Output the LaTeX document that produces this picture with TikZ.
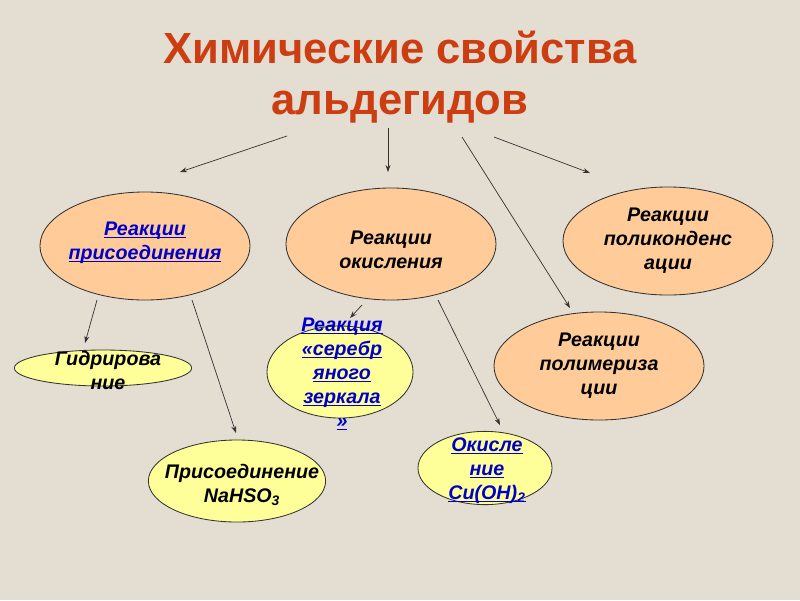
\documentclass[tikz,border=0pt]{standalone}
\usepackage{fontspec}
\setmainfont{Liberation Sans}
\usetikzlibrary{shapes.geometric, arrows.meta, positioning}
\definecolor{bgpaper}{HTML}{E3DDD2}
\definecolor{titlered}{HTML}{CC3D12}
\definecolor{peach}{HTML}{FFCC99}
\definecolor{lemon}{HTML}{FFFF99}
\definecolor{linkblue}{HTML}{0000CC}
\definecolor{darkgray}{HTML}{333333}
\newcommand{\lnk}[1]{\underline{\smash{#1}}}
\tikzset{
  reaction/.style={
    ellipse, draw=darkgray, line width=0.6pt,
    fill=peach, minimum width=5.25cm, minimum height=2.7cm, inner sep=0pt,
  },
  product/.style={
    ellipse, draw=darkgray, line width=0.6pt,
    fill=lemon, inner sep=0pt,
  },
  caption/.style={align=center, inner sep=0pt,
    font=\fontsize{14}{17}\selectfont\bfseries\itshape},
  link/.style={caption, text=linkblue},
  arrow/.style={-{Stealth[length=5pt,width=3.5pt]}, line width=0.5pt, color=darkgray},
}

\begin{document}
\begin{tikzpicture}[x=0.025cm,y=-0.025cm]
  \fill[bgpaper] (0,0) rectangle (800,600);
  \useasboundingbox (0,0) rectangle (800,600);
  \node[font=\fontsize{31}{36}\selectfont\bfseries,text=titlered,align=center] (title) at (400,77) {Химические свойства\\альдегидов};
  % main groups of reactions
  \node[reaction] (add) at (145,246) {};
  \node[reaction,minimum height=2.8cm] (oxid) at (391,244) {};
  \node[reaction] (polycond) at (668,241) {};
  \node[reaction] (polymer) at (599,366) {};
  \node[link] (add-t) at (145,249) {\lnk{Реакции}\\\lnk{присоединения}};
  \node[caption] (oxid-t) at ([yshift=-4]oxid.center) {Реакции\\окисления};
  \node[caption] (polycond-t) at (polycond) {Реакции\\поликонденс\\ации};
  \node[caption] (polymer-t) at (polymer) {Реакции\\полимериза\\ции};
  % particular reactions
  \node[product,minimum width=4.43cm,minimum height=0.9cm] (hydro) at (103,368) {};
  \node[product,minimum width=3.65cm,minimum height=2.3cm] (mirror) at (340,372) {};
  \node[product,minimum width=4.43cm,minimum height=2.05cm] (bisulf) at (237,481) {};
  \node[product,minimum width=3.35cm,minimum height=1.83cm] (cuoh) at (485,468) {};
  \node[caption] (hydro-t) at (108,370) {Гидрирова\\ние};
  \node[link] (mirror-t) at (342,381) {\lnk{Реакция}\\\lnk{«серебр}\\\lnk{яного}\\\lnk{зеркала}\\\lnk{»}};
  \node[caption] (bisulf-t) at (242,485) {Присоединение\\NaHSO\textsubscript{3}};
  \node[link] (cuoh-t) at (487,477) {\lnk{Окисле}\\\lnk{ние}\\\lnk{Cu(OH)\textsubscript{2}}};
  % arrow ends
  \coordinate (s1) at (287,136); \coordinate (e1) at (180,172);
  \coordinate (s2) at (388,128); \coordinate (e2) at (388,172);
  \coordinate (s3) at (462,137); \coordinate (e3) at (570,308);
  \coordinate (s4) at (494,137); \coordinate (e4) at (590,173);
  \coordinate (s5) at (97,300);  \coordinate (e5) at (85,343);
  \coordinate (s6) at (192,300); \coordinate (e6) at (236,433);
  \coordinate (s7) at (362,305); \coordinate (e7) at (350,318);
  \coordinate (s8) at (438,300); \coordinate (e8) at (500,425);
  \foreach \i in {1,...,8}
    \draw[arrow] (s\i)--(e\i);
\end{tikzpicture}
\end{document}
